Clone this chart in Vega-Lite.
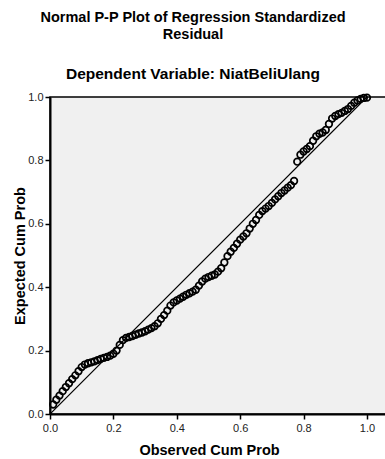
{
  "$schema": "https://vega.github.io/schema/vega-lite/v6.json",
  "autosize": "none",
  "padding": {"left": 50, "top": 97, "right": 0, "bottom": 45},
  "width": 336,
  "height": 317,
  "background": "white",
  "title": {
    "text": ["Normal P-P Plot of Regression Standardized", "Residual"],
    "subtitle": "Dependent Variable: NiatBeliUlang",
    "anchor": "middle",
    "dx": -25,
    "font": "Liberation Sans",
    "fontSize": 14.5,
    "fontWeight": "bold",
    "color": "#000",
    "lineHeight": 16.5,
    "subtitleFont": "Liberation Sans",
    "subtitleFontSize": 15.5,
    "subtitleFontWeight": "bold",
    "subtitleColor": "#000",
    "subtitlePadding": 25,
    "offset": 7
  },
  "config": {
    "view": {"fill": "#f0f0f0", "stroke": "#000", "strokeWidth": 1.5},
    "axis": {
      "labelFont": "Liberation Sans",
      "labelFontSize": 11,
      "labelColor": "#222",
      "labelFlush": false,
      "titleFont": "Liberation Sans",
      "titleFontSize": 14.5,
      "titleFontWeight": "bold",
      "titleColor": "#000",
      "domainColor": "#000",
      "domainWidth": 2,
      "tickColor": "#000",
      "tickWidth": 1.5,
      "tickSize": 5,
      "grid": false
    }
  },
  "datasets": {
    "pts": [
      {"obs": 0.01, "exp": 0.030}, {"obs": 0.02, "exp": 0.045}, {"obs": 0.03, "exp": 0.058}, {"obs": 0.04, "exp": 0.072}, {"obs": 0.05, "exp": 0.085},
      {"obs": 0.06, "exp": 0.097}, {"obs": 0.07, "exp": 0.110}, {"obs": 0.08, "exp": 0.122}, {"obs": 0.09, "exp": 0.135}, {"obs": 0.10, "exp": 0.148},
      {"obs": 0.11, "exp": 0.156}, {"obs": 0.12, "exp": 0.160}, {"obs": 0.13, "exp": 0.163}, {"obs": 0.14, "exp": 0.166}, {"obs": 0.15, "exp": 0.170},
      {"obs": 0.16, "exp": 0.174}, {"obs": 0.17, "exp": 0.177}, {"obs": 0.18, "exp": 0.180}, {"obs": 0.19, "exp": 0.184}, {"obs": 0.20, "exp": 0.190},
      {"obs": 0.21, "exp": 0.200}, {"obs": 0.22, "exp": 0.218}, {"obs": 0.23, "exp": 0.233}, {"obs": 0.24, "exp": 0.240}, {"obs": 0.25, "exp": 0.243},
      {"obs": 0.26, "exp": 0.246}, {"obs": 0.27, "exp": 0.250}, {"obs": 0.28, "exp": 0.254}, {"obs": 0.29, "exp": 0.257}, {"obs": 0.30, "exp": 0.261},
      {"obs": 0.31, "exp": 0.266}, {"obs": 0.32, "exp": 0.271}, {"obs": 0.33, "exp": 0.277}, {"obs": 0.34, "exp": 0.286}, {"obs": 0.35, "exp": 0.300},
      {"obs": 0.36, "exp": 0.312}, {"obs": 0.37, "exp": 0.326}, {"obs": 0.38, "exp": 0.342}, {"obs": 0.39, "exp": 0.352}, {"obs": 0.40, "exp": 0.358},
      {"obs": 0.41, "exp": 0.364}, {"obs": 0.42, "exp": 0.370}, {"obs": 0.43, "exp": 0.376}, {"obs": 0.44, "exp": 0.381}, {"obs": 0.45, "exp": 0.386},
      {"obs": 0.46, "exp": 0.392}, {"obs": 0.47, "exp": 0.405}, {"obs": 0.48, "exp": 0.418}, {"obs": 0.49, "exp": 0.427}, {"obs": 0.50, "exp": 0.432},
      {"obs": 0.51, "exp": 0.436}, {"obs": 0.52, "exp": 0.440}, {"obs": 0.53, "exp": 0.449}, {"obs": 0.54, "exp": 0.460}, {"obs": 0.55, "exp": 0.478},
      {"obs": 0.56, "exp": 0.498}, {"obs": 0.57, "exp": 0.512}, {"obs": 0.58, "exp": 0.524}, {"obs": 0.59, "exp": 0.537}, {"obs": 0.60, "exp": 0.550},
      {"obs": 0.61, "exp": 0.560}, {"obs": 0.62, "exp": 0.570}, {"obs": 0.63, "exp": 0.585}, {"obs": 0.64, "exp": 0.600}, {"obs": 0.65, "exp": 0.612},
      {"obs": 0.66, "exp": 0.628}, {"obs": 0.67, "exp": 0.640}, {"obs": 0.68, "exp": 0.648}, {"obs": 0.69, "exp": 0.656}, {"obs": 0.70, "exp": 0.666},
      {"obs": 0.71, "exp": 0.677}, {"obs": 0.72, "exp": 0.687}, {"obs": 0.73, "exp": 0.697}, {"obs": 0.74, "exp": 0.705}, {"obs": 0.75, "exp": 0.714},
      {"obs": 0.76, "exp": 0.722}, {"obs": 0.77, "exp": 0.735}, {"obs": 0.78, "exp": 0.796}, {"obs": 0.79, "exp": 0.818}, {"obs": 0.80, "exp": 0.828},
      {"obs": 0.81, "exp": 0.836}, {"obs": 0.82, "exp": 0.845}, {"obs": 0.83, "exp": 0.862}, {"obs": 0.84, "exp": 0.876}, {"obs": 0.85, "exp": 0.884},
      {"obs": 0.86, "exp": 0.888}, {"obs": 0.87, "exp": 0.896}, {"obs": 0.88, "exp": 0.915}, {"obs": 0.89, "exp": 0.932}, {"obs": 0.90, "exp": 0.940},
      {"obs": 0.91, "exp": 0.946}, {"obs": 0.92, "exp": 0.950}, {"obs": 0.93, "exp": 0.956}, {"obs": 0.94, "exp": 0.962}, {"obs": 0.95, "exp": 0.972},
      {"obs": 0.96, "exp": 0.982}, {"obs": 0.97, "exp": 0.989}, {"obs": 0.98, "exp": 0.994}, {"obs": 0.99, "exp": 0.997}, {"obs": 1.00, "exp": 0.998}
    ],
    "diag": [{"obs": 0, "exp": 0}, {"obs": 1, "exp": 1}]
  },
  "layer": [
    {
      "data": {"name": "diag"},
      "mark": {"type": "line", "color": "#000", "strokeWidth": 1.2, "clip": true},
      "encoding": {
        "x": {"field": "obs", "type": "quantitative"},
        "y": {"field": "exp", "type": "quantitative"}
      }
    },
    {
      "data": {"name": "pts"},
      "mark": {"type": "point", "shape": "circle", "filled": false, "stroke": "#000", "strokeWidth": 1.7, "opacity": 1, "size": 44, "clip": false},
      "encoding": {
        "x": {
          "field": "obs", "type": "quantitative",
          "scale": {"domain": [0, 1.06], "nice": false, "zero": false},
          "axis": {"title": "Observed Cum Prob", "values": [0, 0.2, 0.4, 0.6, 0.8, 1.0], "format": ".1f", "labelPadding": 3, "titlePadding": 10, "titleX": 159}
        },
        "y": {
          "field": "exp", "type": "quantitative",
          "scale": {"domain": [0, 1], "nice": false, "zero": false},
          "axis": {"title": "Expected Cum Prob", "values": [0, 0.2, 0.4, 0.6, 0.8, 1.0], "format": ".1f", "labelPadding": 2, "titlePadding": 0}
        }
      }
    }
  ]
}
